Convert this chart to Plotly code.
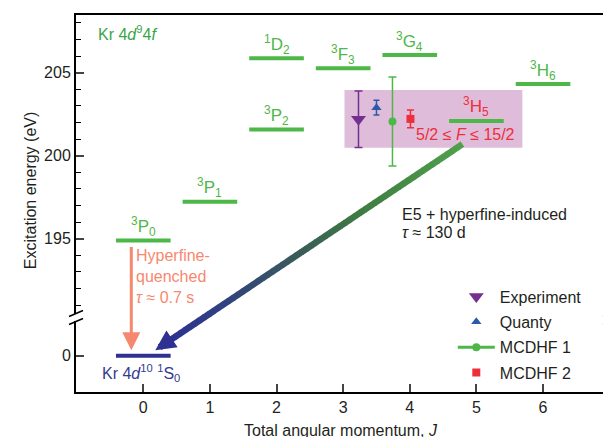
import plotly.graph_objects as go

# Kr 4d^9 4f fine-structure levels: term label, total angular momentum J, energy (eV)
level_names = ["<sup>3</sup>P<sub>0</sub>", "<sup>3</sup>P<sub>1</sub>", "<sup>3</sup>P<sub>2</sub>",
               "<sup>1</sup>D<sub>2</sub>", "<sup>3</sup>F<sub>3</sub>", "<sup>3</sup>G<sub>4</sub>",
               "<sup>3</sup>H<sub>5</sub>", "<sup>3</sup>H<sub>6</sub>"]
level_J = [0, 1, 2, 2, 3, 4, 5, 6]
level_E = [194.9, 197.23, 201.59, 205.87, 205.27, 206.07, 202.1, 204.32]

# Kr 4d^10 1S0 ground state
ground_J = 0
ground_E = 0.0

# 3H5 excitation energy from the different determinations
method_names = ["Experiment", "Quanty", "MCDHF 1", "MCDHF 2"]
method_x = [3.23, 3.5, 3.74, 4.01]
method_E = [202.2, 202.9, 202.07, 202.22]
method_err = [1.7, 0.45, 2.68, 0.53]

# shaded window covering the 3H5 hyperfine manifold
window_J = [3.02, 5.69]
window_E = [200.48, 203.96]

# axis ticks
x_ticks = [0, 1, 2, 3, 4, 5, 6]
y_tick_E = [0, 195, 200, 205]
y_tick_text = ["0", "195", "200", "205"]
y_minor_E = [v for v in range(191, 209) if v % 5 != 0]

# the energy axis is broken: the low-energy panel is drawn shifted up
BREAK_AT = 190.26
LOWER_SHIFT = 187.95


def ypos(e):
    return e + LOWER_SHIFT if e < BREAK_AT - 1 else e


GREEN = "#4db748"
NAVY = "#2e3192"
SALMON = "#f6886f"
RED = "#ec2f3a"
PURPLE = "#74308f"
BLUE = "#2a5aa8"
INK = "#231f20"
FONT = "Liberation Sans, Arial, sans-serif"

fig = go.Figure()

# shaded 3H5 window
fig.add_shape(type="rect", xref="x", yref="y",
              x0=window_J[0], x1=window_J[1], y0=window_E[0], y1=window_E[1],
              fillcolor="#dfbcd9", line_width=0, layer="below")

# excited levels
lx, ly = [], []
for j, e in zip(level_J, level_E):
    lx += [j - 0.41, j + 0.41, None]
    ly += [e, e, None]
fig.add_trace(go.Scatter(x=lx, y=ly, mode="lines", line=dict(color=GREEN, width=4),
                         showlegend=False, hoverinfo="skip"))

# ground level
fig.add_trace(go.Scatter(x=[ground_J - 0.41, ground_J + 0.41], y=[ypos(ground_E)] * 2, mode="lines",
                         line=dict(color=NAVY, width=4), showlegend=False, hoverinfo="skip"))

# level labels
for name, j, e in zip(level_names, level_J, level_E):
    col = RED if "H<sub>5" in name else GREEN
    fig.add_annotation(x=j, y=e, text=name, showarrow=False, yshift=14,
                       xanchor="center", yanchor="middle", font=dict(size=17, color=col, family=FONT))

# measurement / theory points
styles = [
    dict(symbol="triangle-down", size=13, color=PURPLE, cap=4),
    dict(symbol="triangle-up", size=9, color=BLUE, cap=3),
    dict(symbol="circle", size=8, color=GREEN, cap=4),
    dict(symbol="square", size=8, color=RED, cap=3.5),
]
for name, x, e, err, st in zip(method_names, method_x, method_E, method_err, styles):
    fig.add_trace(go.Scatter(
        x=[x], y=[e], name=name, legendgroup=name,
        mode="lines+markers" if name == "MCDHF 1" else "markers",
        marker=dict(symbol=st["symbol"], size=st["size"], color=st["color"]),
        line=dict(color=st["color"], width=3),
        error_y=dict(type="data", array=[err], color=st["color"], thickness=1.5, width=st["cap"]),
    ))

# E5 + hyperfine-induced decay: gradient arrow from 3H5 down to the ground state
tail = (4.79, 200.7)
tip = (0.18, ypos(ground_E + 0.34))
stops = [(0.0, (80, 160, 75)), (0.35, (62, 122, 66)), (0.55, (58, 92, 88)),
         (0.8, (48, 66, 126)), (1.0, (44, 50, 146))]


def grad(t):
    for (t0, c0), (t1, c1) in zip(stops[:-1], stops[1:]):
        if t <= t1:
            u = (t - t0) / (t1 - t0)
            return "rgb(%d,%d,%d)" % tuple(round(a + (b - a) * u) for a, b in zip(c0, c1))
    return "rgb(%d,%d,%d)" % stops[-1][1]


n_seg = 60
head_frac = 0.95
for i in range(n_seg):
    t0 = head_frac * i / n_seg
    t1 = head_frac * (i + 1) / n_seg
    fig.add_shape(type="line", xref="x", yref="y",
                  x0=tail[0] + (tip[0] - tail[0]) * t0, y0=tail[1] + (tip[1] - tail[1]) * t0,
                  x1=tail[0] + (tip[0] - tail[0]) * (t1 + 0.002), y1=tail[1] + (tip[1] - tail[1]) * (t1 + 0.002),
                  line=dict(color=grad(t0 / head_frac), width=6.5))
hb = (tail[0] + (tip[0] - tail[0]) * head_frac, tail[1] + (tip[1] - tail[1]) * head_frac)
fig.add_annotation(x=tip[0], y=tip[1], ax=hb[0], ay=hb[1], axref="x", ayref="y", xref="x", yref="y",
                   text="", showarrow=True, arrowhead=2, arrowsize=0.62, arrowwidth=6.5, arrowcolor=NAVY)

# hyperfine-quenched decay of 3P0
fig.add_annotation(x=-0.18, y=ypos(ground_E + 0.34), ax=-0.18, ay=194.6, axref="x", ayref="y",
                   xref="x", yref="y", text="", showarrow=True, arrowhead=2, arrowsize=1.2,
                   arrowwidth=3, arrowcolor=SALMON)

# text labels
fig.add_annotation(x=-0.71, y=207.39, text="Kr 4<i>d</i><sup>9</sup>4<i>f</i>", showarrow=False,
                   xanchor="left", font=dict(size=16, color="#3ba449", family=FONT))
fig.add_annotation(x=4.83, y=201.3, text="5/2 ≤ <i>F</i> ≤ 15/2", showarrow=False,
                   xanchor="center", font=dict(size=16, color=RED, family=FONT))
fig.add_annotation(x=-0.14, y=194.6, text="Hyperfine-<br>quenched<br><i>τ</i> ≈ 0.7 s", showarrow=False,
                   xanchor="left", yanchor="top", align="left", font=dict(size=16, color=SALMON, family=FONT))
fig.add_annotation(x=3.85, y=196.46, text="E5 + hyperfine-induced", showarrow=False,
                   xanchor="left", font=dict(size=16, color=INK, family=FONT))
fig.add_annotation(x=3.85, y=195.4, text="<i>τ</i> ≈ 130 d", showarrow=False,
                   xanchor="left", font=dict(size=16, color=INK, family=FONT))
fig.add_annotation(x=-0.04, y=ypos(ground_E - 1.05), text="Kr 4<i>d</i><sup>10</sup> <sup>1</sup>S<sub>0</sub>",
                   showarrow=False, xanchor="center", font=dict(size=16, color="#343b8e", family=FONT))

# axis titles
fig.add_annotation(xref="paper", yref="y", x=0, y=197.9, xshift=-56, text="Excitation energy (eV)",
                   textangle=-90, showarrow=False, font=dict(size=16, color=INK, family=FONT))
fig.add_annotation(xref="paper", yref="paper", x=0.5, y=0, xshift=1, yshift=-38, yanchor="middle",
                   text="Total angular momentum, <i>J</i>", showarrow=False,
                   font=dict(size=16, color=INK, family=FONT))

# axis break marks (left axis, and the right axis just at the edge)
for sx, dx in [(0, 0), (1, 7)]:
    fig.add_shape(type="rect", xref="paper", yref="y", xsizemode="pixel", ysizemode="pixel",
                  xanchor=sx, yanchor=BREAK_AT, x0=-2 + dx, x1=2 + dx, y0=-3.5, y1=3.5,
                  fillcolor="white", line_width=0, layer="above")
    for dy in [-4, 4]:
        fig.add_shape(type="line", xref="paper", yref="y", xsizemode="pixel", ysizemode="pixel",
                      xanchor=sx, yanchor=BREAK_AT, x0=-7 + dx, x1=7 + dx, y0=dy - 3, y1=dy + 3,
                      line=dict(color="black", width=1.5), layer="above")

fig.update_layout(
    width=603, height=437,
    margin=dict(l=76, r=0, t=15, b=45),
    paper_bgcolor="white", plot_bgcolor="white",
    font=dict(family=FONT, size=16, color=INK),
    showlegend=True,
    legend=dict(x=0.715, y=0.298, xanchor="left", yanchor="top", bgcolor="rgba(0,0,0,0)",
                font=dict(size=16, family=FONT), tracegroupgap=1.5, itemwidth=37),
    xaxis=dict(range=[-1.01, 6.9], tickvals=x_ticks, ticks="inside", ticklen=8, tickwidth=1.5,
               showline=True, linewidth=2, linecolor="black", mirror=True, showgrid=False,
               zeroline=False, tickfont=dict(size=16)),
    yaxis=dict(range=[185.77, 208.48], tickvals=[ypos(e) for e in y_tick_E], ticktext=y_tick_text,
               ticks="inside", ticklen=8, tickwidth=1.5, showline=True, linewidth=2, linecolor="black",
               showgrid=False, zeroline=False, tickfont=dict(size=16),
               minor=dict(tickvals=y_minor_E, ticks="inside", ticklen=5, tickwidth=1.2, tickcolor="black",
                          showgrid=False)),
)

fig.write_html("out.html")
